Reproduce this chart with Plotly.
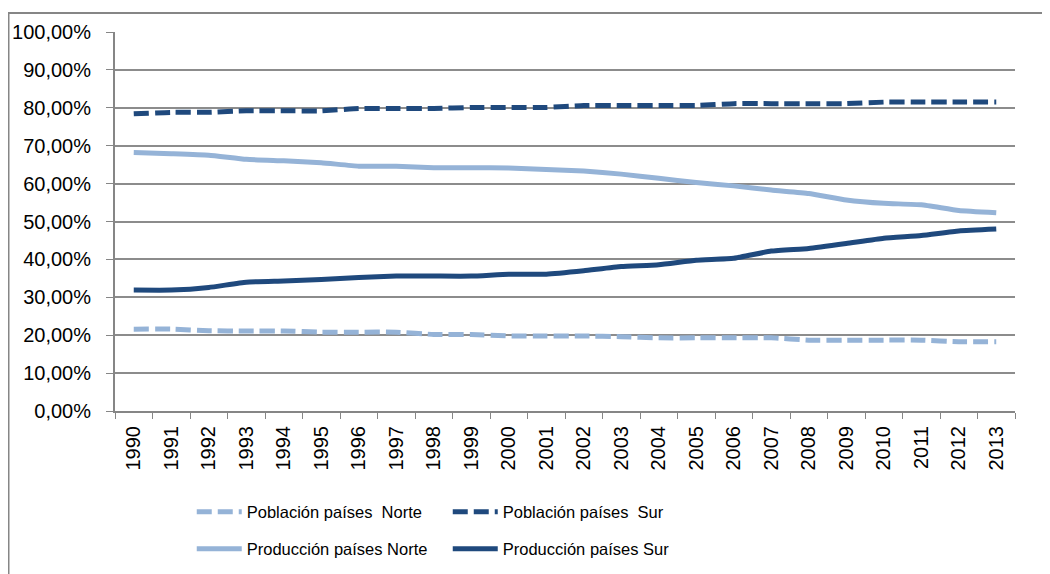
import plotly.graph_objects as go

years = [str(y) for y in range(1990, 2014)]

pob_norte = [21.6, 21.6, 21.2, 21.1, 21.1, 20.8, 20.8, 20.8, 20.2, 20.2, 19.8, 19.8,
             19.8, 19.6, 19.3, 19.3, 19.3, 19.3, 18.7, 18.7, 18.7, 18.7, 18.3, 18.3]
pob_sur = [78.4, 78.8, 78.8, 79.2, 79.2, 79.2, 79.8, 79.8, 79.8, 80.1, 80.1, 80.1,
           80.6, 80.6, 80.6, 80.6, 81.1, 81.1, 81.1, 81.1, 81.5, 81.5, 81.5, 81.5]
prod_norte = [68.2, 67.9, 67.5, 66.4, 66.0, 65.5, 64.6, 64.6, 64.2, 64.2, 64.1, 63.7,
              63.3, 62.5, 61.4, 60.3, 59.4, 58.3, 57.4, 55.7, 54.8, 54.4, 52.9, 52.3]
prod_sur = [31.9, 31.9, 32.6, 34.0, 34.3, 34.7, 35.2, 35.6, 35.6, 35.6, 36.1, 36.1,
            37.0, 38.1, 38.6, 39.8, 40.3, 42.2, 42.9, 44.2, 45.6, 46.3, 47.5, 48.0]

light = "#95B3D7"
dark = "#1F497D"
FONT = "Liberation Sans, Arial, sans-serif"

# page body has an 8px default margin, so figure coords = screen coords - 8
OFF = 8
W, H = 1050, 574
L, T = 115 - OFF, 32 - OFF
R_EDGE, B_EDGE = 1015 - OFF, 411 - OFF
PW, PH = R_EDGE - L, B_EDGE - T

fig = go.Figure()
series = [
    ("Población países  Norte", pob_norte, light, "15px,6px", "legend"),
    ("Población países  Sur", pob_sur, dark, "15px,6px", "legend"),
    ("Producción países Norte", prod_norte, light, "solid", "legend2"),
    ("Producción países Sur", prod_sur, dark, "solid", "legend2"),
]
for name, vals, col, dash, leg in series:
    fig.add_trace(go.Scatter(
        x=years, y=[v / 100 for v in vals], name=name, mode="lines",
        line=dict(color=col, width=5, dash=dash, shape="spline", smoothing=0.4),
        legend=leg,
    ))

legend_common = dict(
    orientation="h", xref="container", yref="container", xanchor="left", yanchor="middle",
    entrywidth=196, entrywidthmode="pixels", itemwidth=45,
    font=dict(family=FONT, size=16.5, color="#000000"), bgcolor="rgba(0,0,0,0)",
    tracegroupgap=0, traceorder="normal",
)
fig.update_layout(
    width=W, height=H,
    margin=dict(l=L, r=W - R_EDGE, t=T, b=H - B_EDGE, autoexpand=False),
    paper_bgcolor="white", plot_bgcolor="white",
    separators=",.",
    font=dict(family=FONT, size=20, color="#000000"),
    showlegend=True,
    legend=dict(x=0.175, y=1 - (512 - OFF) / H, **legend_common),
    legend2=dict(x=0.175, y=1 - (549 - OFF) / H, **legend_common),
    xaxis=dict(
        type="category", tickangle=-90, tickson="boundaries", ticks="outside",
        ticklen=6, tickcolor="#868686", showline=True, linecolor="#868686", linewidth=2,
        showgrid=False, tickfont=dict(family=FONT, size=20, color="#000000"),
        range=[-0.5, len(years) - 0.5], ticklabelstandoff=5, automargin=False,
    ),
    yaxis=dict(
        range=[0, 1], tickvals=[i / 10 for i in range(11)], tickformat=".2%",
        ticks="outside", ticklen=7, tickcolor="#868686", showline=True,
        linecolor="#868686", linewidth=2, showgrid=True, gridcolor="#8C8C8C",
        gridwidth=1.5, zeroline=False, tickfont=dict(family=FONT, size=20, color="#000000"),
        ticklabelstandoff=11, automargin=False,
    ),
)
# outer chart border (screen x=8.5, y=13)
fig.add_shape(type="rect", xref="paper", yref="paper",
              x0=(8.5 - OFF - L) / PW, x1=(W + 20 - L) / PW,
              y0=(B_EDGE - (H + 20)) / PH, y1=(B_EDGE - (13 - OFF)) / PH,
              line=dict(color="#868686", width=2), fillcolor="rgba(0,0,0,0)", layer="below")

fig.write_html("out.html")
